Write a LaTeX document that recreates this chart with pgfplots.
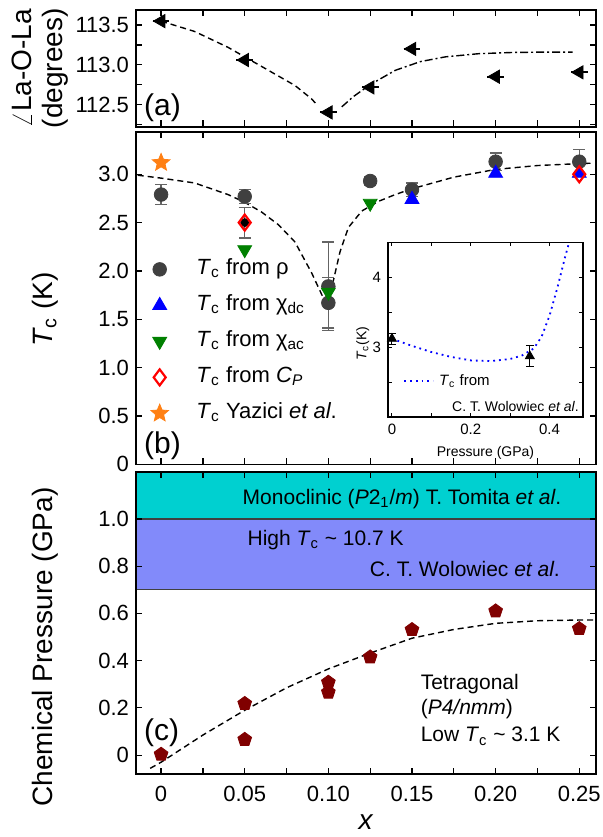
\documentclass[border=0pt]{standalone}
\usepackage{fontspec}
\setmainfont{Liberation Sans}
\usepackage{pgfplots}
\pgfplotsset{compat=1.18}
\usetikzlibrary{plotmarks}

\newcommand{\Tc}{\textit{T}\textsubscript{c}}
\definecolor{rhogray}{RGB}{64,64,64}
\definecolor{mono}{RGB}{0,208,208}
\definecolor{hightc}{RGB}{130,138,250}
\definecolor{pent}{RGB}{128,0,0}
\definecolor{staror}{RGB}{255,128,20}
\definecolor{acgreen}{RGB}{0,128,0}
\definecolor{errgray}{RGB}{100,100,100}

% filled five-point star
\pgfdeclareplotmark{fstar}{%
  \pgfpathmoveto{\pgfpointpolar{90}{\pgfplotmarksize}}%
  \pgfpathlineto{\pgfpointpolar{126}{0.45\pgfplotmarksize}}%
  \pgfpathlineto{\pgfpointpolar{162}{\pgfplotmarksize}}%
  \pgfpathlineto{\pgfpointpolar{198}{0.45\pgfplotmarksize}}%
  \pgfpathlineto{\pgfpointpolar{234}{\pgfplotmarksize}}%
  \pgfpathlineto{\pgfpointpolar{270}{0.45\pgfplotmarksize}}%
  \pgfpathlineto{\pgfpointpolar{306}{\pgfplotmarksize}}%
  \pgfpathlineto{\pgfpointpolar{342}{0.45\pgfplotmarksize}}%
  \pgfpathlineto{\pgfpointpolar{18}{\pgfplotmarksize}}%
  \pgfpathlineto{\pgfpointpolar{54}{0.45\pgfplotmarksize}}%
  \pgfpathclose\pgfusepathqfillstroke}

\pgfplotsset{
  panel/.style={
    scale only axis, width=230pt,
    xmin=-0.015, xmax=0.26,
    xtick={0,0.05,0.10,0.15,0.20,0.25},
    minor xtick={0.025,0.075,0.125,0.175,0.225},
    tick align=inside,
    major tick length=3.2pt, minor tick length=3.2pt,
    every tick/.style={black, line width=0.6pt},
    axis line style={black, line width=0.8pt},
    tick label style={font=\fontsize{11}{13}\selectfont},
    /pgf/number format/assume math mode=true,
    every axis y label/.style={at={(axis description cs:-0.198,0.5)}, rotate=90, anchor=center,
      font=\fontsize{14}{16}\selectfont},
    every axis x label/.style={at={(axis description cs:0.5,-0.159)}, anchor=center,
      font=\fontsize{14}{16}\selectfont},
  },
  fitline/.style={black, line width=0.7pt, dash pattern=on 3pt off 2pt},
  ebar/.style={error bars/.cd, y dir=both, y explicit,
    error bar style={errgray, line width=0.6pt},
    error mark options={errgray, line width=0.6pt, mark size=3pt, rotate=90}},
}

\begin{document}
\begin{tikzpicture}
\path[use as bounding box] (-68pt,0pt) rectangle (233.5pt,-418.5pt);

% (a) La-O-La angle
\begin{axis}[panel, at={(0pt,-5pt)}, anchor=north west, height=58.35pt,
  ymin=112.22, ymax=113.69,
  ytick={112.5,113,113.5}, yticklabels={112.5,113.0,113.5},
  minor ytick={112.25,112.75,113.25},
  xticklabels={},
  ylabel={\fontsize{14}{15.5}\selectfont\begin{tabular}{@{}c@{}}$\angle$La-O-La\\(degrees)\end{tabular}},
  ylabel style={at={(axis description cs:-0.207,0.5)}},
]
\addplot[fitline] coordinates {
  (0,113.55) (0.02,113.42) (0.04,113.22) (0.05,113.10) (0.06,112.98)
  (0.07,112.86) (0.08,112.74) (0.09,112.57) (0.093,112.50)
};
\addplot[black, line width=0.7pt, dash pattern=on 4pt off 1.5pt on 1pt off 1.5pt] coordinates {
  (0.108,112.47) (0.115,112.60) (0.125,112.75) (0.14,112.93) (0.155,113.04)
  (0.17,113.10) (0.19,113.14) (0.21,113.155) (0.23,113.16) (0.246,113.16)
};
\addplot[only marks, black, mark=triangle*, mark size=3.8pt, mark options={rotate=90},
  error bars/.cd, x dir=both, x explicit, error mark=none,
  error bar style={black, line width=1pt}]
  coordinates {
  (0,113.55) +- (0.005,0) (0.05,113.06) +- (0.005,0) (0.10,112.40) +- (0.005,0)
  (0.125,112.715) +- (0.005,0) (0.15,113.20) +- (0.005,0)
  (0.20,112.85) +- (0.005,0) (0.25,112.905) +- (0.005,0)
};
\node[anchor=west, inner sep=0pt, font=\fontsize{15}{17}\selectfont] at (rel axis cs:0.017,0.166) {(a)};
\end{axis}

% (b) Tc
\begin{axis}[panel, at={(0pt,-65.85pt)}, anchor=north west, height=166.3pt,
  ymin=0, ymax=3.44,
  ytick={0,0.5,1,1.5,2,2.5,3}, yticklabels={0,0.5,1.0,1.5,2.0,2.5,3.0},
  xticklabels={},
  ylabel={\Tc\ (K)},
  ylabel style={at={(axis description cs:-0.198,0.465)}},
  legend style={at={(axis cs:-0.0063,2.134)}, anchor=north west, draw=none, fill=none,
    inner sep=0pt, row sep=7pt, column sep=14pt,
    font=\fontsize{11}{12}\selectfont,
    nodes={inner sep=0pt, text height=8pt, text depth=3pt}},
  legend cell align=left,
]
\addplot[fitline, forget plot] coordinates {
  (-0.014,2.99) (0,2.96) (0.02,2.91) (0.04,2.79) (0.05,2.71) (0.06,2.61)
  (0.07,2.48) (0.08,2.30) (0.09,1.98) (0.097,1.72) (0.10,1.64) (0.103,1.90)
  (0.107,2.20) (0.112,2.45) (0.12,2.62) (0.13,2.72) (0.14,2.79) (0.15,2.85)
  (0.175,2.97) (0.20,3.05) (0.225,3.09) (0.25,3.11) (0.258,3.115)
};
\addplot[forget plot, only marks, mark=none, ebar]
  coordinates {(0.05,2.50) +- (0,0.16)};
\addplot[only marks, mark=*, mark size=3.4pt, color=rhogray, ebar]
  coordinates {
  (0,2.79) +- (0,0.10) (0.05,2.77) +- (0,0.075) (0.10,1.84) +- (0,0.46)
  (0.10,1.67) +- (0,0.26) (0.125,2.93) +- (0,0.05) (0.15,2.84) +- (0,0.07)
  (0.20,3.13) +- (0,0.09) (0.25,3.13) +- (0,0.13)
};
\addlegendentry{\Tc\ from ρ}
\addplot[only marks, mark=triangle*, mark size=4pt, color=blue]
  coordinates {(0.15,2.74) (0.20,3.01) (0.25,3.01)};
\addlegendentry{\Tc\ from χ\textsubscript{dc}}
\addplot[only marks, mark=triangle*, mark size=4pt, mark options={rotate=180}, color=acgreen]
  coordinates {(0.05,2.22) (0.10,1.78) (0.125,2.70)};
\addlegendentry{\Tc\ from χ\textsubscript{ac}}
\addplot[only marks, mark=diamond, mark size=4pt, color=red, mark options={line width=1.1pt}]
  coordinates {(0.05,2.50) (0.25,3.00)};
\addlegendentry{\Tc\ from \textit{C}\textsubscript{\textit{P}}}
\addplot[only marks, mark=fstar, mark size=4.6pt, color=staror]
  coordinates {(0,3.12)};
\addlegendentry{\Tc\ Yazici \textit{et al}.}
\node[anchor=west, inner sep=0pt, font=\fontsize{15}{17}\selectfont] at (rel axis cs:0.017,0.057) {(b)};
\end{axis}

% inset: Tc vs pressure
\begin{axis}[at={(126pt,-208.5pt)}, anchor=south west,
  scale only axis, width=97.5pt, height=87.35pt,
  xmin=-0.01, xmax=0.485, ymin=2, ymax=4.5,
  xtick={0,0.2,0.4}, xticklabels={0,0.2,0.4}, minor xtick={0.1,0.3},
  ytick={3,4}, yticklabels={3,4}, minor ytick={2.5,3.5},
  tick align=inside, major tick length=2pt, minor tick length=2pt,
  every tick/.style={black, line width=0.5pt},
  axis line style={black, line width=0.6pt},
  axis background/.style={fill=white},
  tick label style={font=\fontsize{7.5}{9}\selectfont},
  xlabel={Pressure (GPa)},
  every axis x label/.style={at={(axis description cs:0.5,0)}, anchor=center, yshift=-18pt,
    font=\fontsize{7}{8}\selectfont},
  ylabel={\Tc(K)},
  every axis y label/.style={at={(axis description cs:-0.13,0.42)}, rotate=90, anchor=center,
    font=\fontsize{7}{8}\selectfont},
  legend style={at={(axis cs:0.028,2.51)}, anchor=west, draw=none, fill=none,
    inner sep=0pt, column sep=2.5pt, font=\fontsize{7.5}{9}\selectfont,
    nodes={inner sep=0pt}},
  legend image code/.code={\draw[#1] (0pt,0pt) -- (14.5pt,0pt);},
]
\addplot[blue, line width=0.9pt, dotted] coordinates {
  (0,3.12) (0.05,3.02) (0.10,2.93) (0.15,2.86) (0.20,2.81) (0.25,2.80)
  (0.30,2.83) (0.33,2.88) (0.36,2.98) (0.38,3.15) (0.40,3.45) (0.42,3.85)
  (0.44,4.30) (0.455,4.60)
};
\addlegendentry{\Tc\ from}
\addplot[only marks, black, mark=triangle*, mark size=2.6pt,
  error bars/.cd, y dir=both, y explicit,
  error bar style={black, line width=0.5pt},
  error mark options={black, line width=0.5pt, mark size=2pt, rotate=90}]
  coordinates {(0,3.12) +- (0,0.08) (0.35,2.87) +- (0,0.15)};
\node[anchor=east, inner sep=0pt, font=\fontsize{7}{8}\selectfont] at (rel axis cs:0.98,0.063) {C. T. Wolowiec \textit{et al}.};
\end{axis}

% (c) chemical pressure
\begin{axis}[panel, at={(0pt,-235.85pt)}, anchor=north west, height=151.15pt,
  axis on top,
  ymin=-0.08, ymax=1.2,
  ytick={0,0.2,0.4,0.6,0.8,1.0}, yticklabels={0,0.2,0.4,0.6,0.8,1.0},
  xticklabels={0,0.05,0.10,0.15,0.20,0.25},
  xticklabel style={yshift=-2.6pt},
  xlabel={\textit{x}},
  ylabel={Chemical Pressure (GPa)},
  ylabel style={at={(axis description cs:-0.198,0.42)}},
]
\addplot[fill=mono, draw=none] coordinates {(-0.015,1.0) (0.26,1.0) (0.26,1.2) (-0.015,1.2) (-0.015,1.0)};
\addplot[fill=hightc, draw=none] coordinates {(-0.015,0.7) (0.26,0.7) (0.26,1.0) (-0.015,1.0) (-0.015,0.7)};
\addplot[black!75, line width=0.6pt] coordinates {(-0.015,1.0) (0.26,1.0)};
\addplot[black!75, line width=0.6pt] coordinates {(-0.015,0.7) (0.26,0.7)};
\addplot[fitline] coordinates {
  (-0.0065,-0.056) (0,-0.03) (0.025,0.085) (0.05,0.19) (0.075,0.285)
  (0.10,0.365) (0.125,0.432) (0.15,0.495) (0.175,0.532) (0.20,0.558)
  (0.225,0.569) (0.25,0.572) (0.26,0.572)
};
\addplot[only marks, mark=pentagon*, mark size=3.6pt, color=pent] coordinates {
  (0,0.003) (0.05,0.218) (0.05,0.066) (0.10,0.308) (0.10,0.266)
  (0.125,0.415) (0.15,0.531) (0.20,0.61) (0.25,0.535)
};
\node[font=\fontsize{10.5}{12}\selectfont] at (axis cs:0.144,1.085)
  {Monoclinic (\textit{P}2\textsubscript{1}/\textit{m}) T. Tomita \textit{et al}.};
\node[anchor=west, inner sep=0pt, font=\fontsize{10.5}{12}\selectfont] at (axis cs:0.0515,0.91)
  {High \Tc\ \textasciitilde\ 10.7 K};
\node[anchor=east, inner sep=0pt, font=\fontsize{10.5}{12}\selectfont] at (axis cs:0.2386,0.786)
  {C. T. Wolowiec \textit{et al}.};
\node[anchor=west, inner sep=0pt, font=\fontsize{10.5}{12}\selectfont] at (axis cs:0.155,0.299) {Tetragonal};
\node[anchor=west, inner sep=0pt, font=\fontsize{10.5}{12}\selectfont] at (axis cs:0.155,0.193) {(\textit{P4/nmm})};
\node[anchor=west, inner sep=0pt, font=\fontsize{10.5}{12}\selectfont] at (axis cs:0.155,0.080) {Low \Tc\ \textasciitilde\ 3.1 K};
\node[anchor=west, inner sep=0pt, font=\fontsize{15}{17}\selectfont] at (rel axis cs:0.017,0.136) {(c)};
\end{axis}
\end{tikzpicture}
\end{document}
